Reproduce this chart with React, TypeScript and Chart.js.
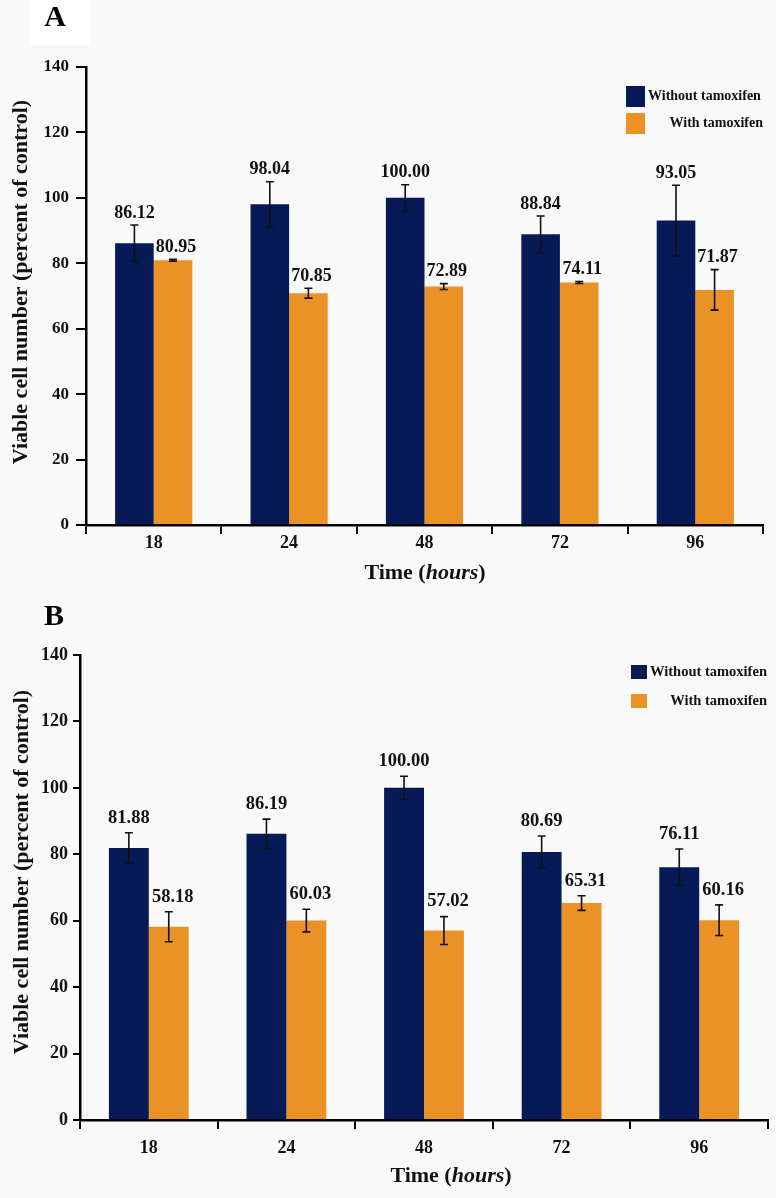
import React, { useEffect, useRef } from 'react';
import { Chart, registerables } from 'chart.js';
Chart.register(...registerables);

const categories = ['18', '24', '48', '72', '96'];
const seriesNames = ['Without tamoxifen', 'With tamoxifen'];
const yTickValues = [0, 20, 40, 60, 80, 100, 120, 140];

const aWithout = [86.12, 98.04, 100.0, 88.84, 93.05];
const aWithoutErr = [5.6, 6.9, 4.0, 5.6, 10.8];
const aWith = [80.95, 70.85, 72.89, 74.11, 71.87];
const aWithErr = [0.3, 1.5, 0.9, 0.3, 6.2];

const bWithout = [81.88, 86.19, 100.0, 80.69, 76.11];
const bWithoutErr = [4.6, 4.4, 3.5, 4.8, 5.5];
const bWith = [58.18, 60.03, 57.02, 65.31, 60.16];
const bWithErr = [4.5, 3.4, 4.2, 2.2, 4.6];

const NAVY = '#061a58';
const ORANGE = '#ea9226';
const BG = '#f9f9f9';
const SERIF = '"Liberation Serif", "Times New Roman", serif';

type Panel = {
  letter: string;
  top: number;
  height: number;
  padRight: number;
  padTop: number;
  yWidth: number;
  xHeight: number;
  catPct: number;
  yTickFont: number;
  xTickFont: number;
  yTickLen: number;
  yTickPad: number;
  xTickLen: number;
  xTickPad: number;
  labelFont: number;
  labelOffset: number;
  orangeDx: number;
  yTitle: [number, number];
  xTitle: [number, number];
  letterPos: [number, number];
  legend: { sx: number; sw: number; sh: number; y1: number; y2: number; tx: number; tr: number; font: number };
  without: number[];
  withoutErr: number[];
  withT: number[];
  withErr: number[];
};

const panels: Panel[] = [
  {
    letter: 'A', top: 0, height: 595, padRight: 13, padTop: 67, yWidth: 86, xHeight: 70, catPct: 0.57,
    yTickFont: 17, xTickFont: 18, yTickLen: 10, yTickPad: 7, xTickLen: 9, xTickPad: 0.5,
    labelFont: 18, labelOffset: 12, orangeDx: 3,
    yTitle: [21, 282], xTitle: [425, 573], letterPos: [55, 18],
    legend: { sx: 626, sw: 19, sh: 21, y1: 86, y2: 113, tx: 648, tr: 763, font: 14 },
    without: aWithout, withoutErr: aWithoutErr, withT: aWith, withErr: aWithErr,
  },
  {
    letter: 'B', top: 595, height: 603, padRight: 8, padTop: 60, yWidth: 80, xHeight: 78, catPct: 0.58,
    yTickFont: 18, xTickFont: 18, yTickLen: 7, yTickPad: 5, xTickLen: 9, xTickPad: 10,
    labelFont: 18.5, labelOffset: 15, orangeDx: 4,
    yTitle: [22, 277], xTitle: [451, 581], letterPos: [54, 22],
    legend: { sx: 631, sw: 16, sh: 14, y1: 70, y2: 99, tx: 650, tr: 767, font: 14.5 },
    without: bWithout, withoutErr: bWithoutErr, withT: bWith, withErr: bWithErr,
  },
];

function makePlugin(p: Panel) {
  return {
    id: 'panelDecor' + p.letter,
    afterDatasetsDraw(chart: any) {
      const ctx = chart.ctx;
      const ys = chart.scales.y;
      chart.data.datasets.forEach((ds: any, i: number) => {
        const meta = chart.getDatasetMeta(i);
        meta.data.forEach((bar: any, j: number) => {
          const v = ds.data[j];
          const e = ds.errors[j];
          const t = ys.getPixelForValue(v + e);
          const b = ys.getPixelForValue(v - e);
          const cap = 4;
          ctx.save();
          ctx.strokeStyle = '#111';
          ctx.lineWidth = 1.6;
          ctx.beginPath();
          ctx.moveTo(bar.x, t); ctx.lineTo(bar.x, b);
          ctx.moveTo(bar.x - cap, t); ctx.lineTo(bar.x + cap, t);
          ctx.moveTo(bar.x - cap, b); ctx.lineTo(bar.x + cap, b);
          ctx.stroke();
          ctx.fillStyle = '#111';
          ctx.font = `bold ${p.labelFont}px ${SERIF}`;
          ctx.textAlign = 'center';
          ctx.textBaseline = 'middle';
          ctx.fillText(v.toFixed(2), bar.x + (i === 1 ? p.orangeDx : 0), t - p.labelOffset);
          ctx.restore();
        });
      });
    },
    afterDraw(chart: any) {
      const ctx = chart.ctx;
      ctx.save();
      ctx.fillStyle = '#111';
      // y title
      ctx.save();
      ctx.translate(p.yTitle[0], p.yTitle[1]);
      ctx.rotate(-Math.PI / 2);
      ctx.font = `bold 22px ${SERIF}`;
      ctx.textAlign = 'center';
      ctx.textBaseline = 'middle';
      ctx.fillText('Viable cell number (percent of control)', 0, 0);
      ctx.restore();
      // x title with italic part
      const parts: [string, string][] = [
        ['Time (', `bold 22px ${SERIF}`],
        ['hours', `italic bold 22px ${SERIF}`],
        [')', `bold 22px ${SERIF}`],
      ];
      let total = 0;
      parts.forEach(([s, f]) => { ctx.font = f; total += ctx.measureText(s).width; });
      let x = p.xTitle[0] - total / 2;
      ctx.textAlign = 'left';
      ctx.textBaseline = 'middle';
      parts.forEach(([s, f]) => { ctx.font = f; ctx.fillText(s, x, p.xTitle[1]); x += ctx.measureText(s).width; });
      // letter
      if (p.letter === 'A') {
        ctx.fillStyle = '#ffffff';
        ctx.fillRect(30, 0, 60, 45);
      }
      ctx.fillStyle = '#000';
      ctx.font = `bold 30px ${SERIF}`;
      ctx.textAlign = 'center';
      ctx.fillText(p.letter, p.letterPos[0], p.letterPos[1]);
      // legend
      const L = p.legend;
      ctx.fillStyle = NAVY;
      ctx.fillRect(L.sx, L.y1, L.sw, L.sh);
      ctx.fillStyle = ORANGE;
      ctx.fillRect(L.sx, L.y2, L.sw, L.sh);
      ctx.fillStyle = '#111';
      ctx.font = `bold ${L.font}px ${SERIF}`;
      ctx.textAlign = 'left';
      ctx.fillText(seriesNames[0], L.tx, L.y1 + L.sh / 2);
      ctx.textAlign = 'right';
      ctx.fillText(seriesNames[1], L.tr, L.y2 + L.sh / 2);
      ctx.restore();
    },
  };
}

function PanelChart({ p }: { p: Panel }) {
  const ref = useRef<HTMLCanvasElement | null>(null);
  useEffect(() => {
    if (!ref.current) return;
    const chart = new Chart(ref.current, {
      type: 'bar',
      data: {
        labels: categories,
        datasets: [
          { label: seriesNames[0], data: p.without, errors: p.withoutErr, backgroundColor: NAVY, borderWidth: 0 } as any,
          { label: seriesNames[1], data: p.withT, errors: p.withErr, backgroundColor: ORANGE, borderWidth: 0 } as any,
        ],
      },
      options: {
        animation: false,
        responsive: false,
        devicePixelRatio: 1,
        datasets: { bar: { categoryPercentage: p.catPct, barPercentage: 1 } },
        layout: { padding: { left: 0, right: p.padRight, top: p.padTop, bottom: 0 } },
        plugins: { legend: { display: false }, tooltip: { enabled: false } },
        scales: {
          x: {
            afterFit: (s: any) => { s.height = p.xHeight; },
            border: { display: true, color: '#000', width: 2.5 },
            grid: { offset: true, drawOnChartArea: false, drawTicks: true, tickLength: p.xTickLen, color: '#000', lineWidth: 2 },
            ticks: { color: '#111', padding: p.xTickPad, font: { family: SERIF, size: p.xTickFont, weight: 'bold', lineHeight: 1 } },
          },
          y: {
            min: 0,
            max: 140,
            afterFit: (s: any) => { s.width = p.yWidth; },
            afterBuildTicks: (s: any) => { s.ticks = yTickValues.map((v) => ({ value: v })); },
            border: { display: true, color: '#000', width: 2.5 },
            grid: { drawOnChartArea: false, drawTicks: true, tickLength: p.yTickLen, color: '#000', lineWidth: 2 },
            ticks: { color: '#111', padding: p.yTickPad, font: { family: SERIF, size: p.yTickFont, weight: 'bold' } },
          },
        },
      } as any,
      plugins: [makePlugin(p) as any],
    });
    return () => chart.destroy();
  }, [p]);
  return (
    <canvas
      ref={ref}
      width={776}
      height={p.height}
      style={{ position: 'absolute', left: 0, top: p.top, width: 776, height: p.height, display: 'block' }}
    />
  );
}

export default function App() {
  return (
    <div style={{ position: 'absolute', left: 0, top: 0, width: 776, height: 1198, background: BG, overflow: 'hidden' }}>
      {panels.map((p) => (
        <PanelChart key={p.letter} p={p} />
      ))}
    </div>
  );
}
